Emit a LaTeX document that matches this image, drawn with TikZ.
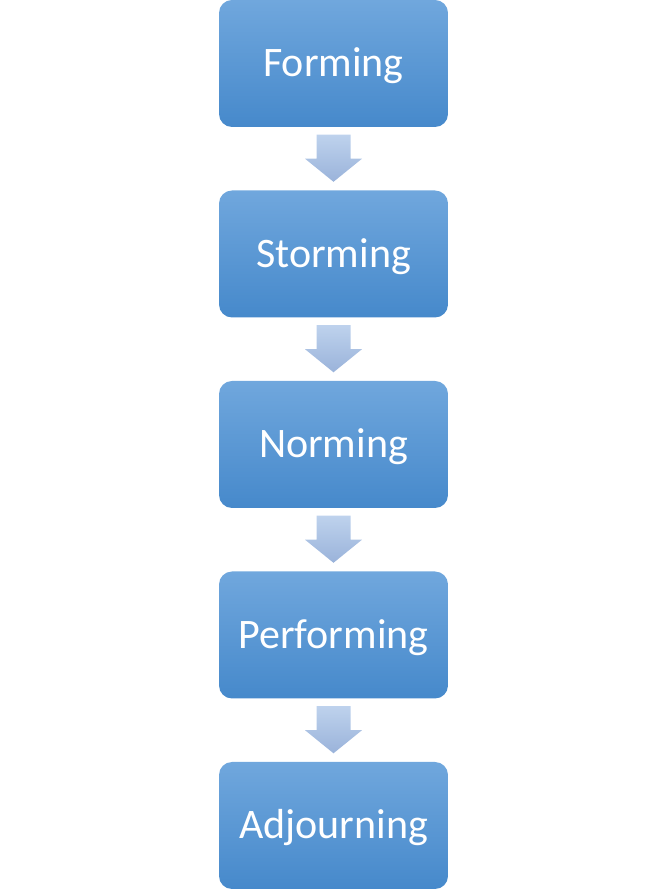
\documentclass[tikz,border=0pt]{standalone}
\usepackage{fontspec}
\setmainfont{Carlito}
\definecolor{boxtop}{HTML}{70A7DD}
\definecolor{boxbot}{HTML}{4689CB}
\definecolor{arrtop}{HTML}{BED2ED}
\definecolor{arrbot}{HTML}{9AB3DA}
\newcommand{\stagetext}[1]{\raisebox{-2.5pt}[\height][\depth]{#1}}
\begin{document}
\begin{tikzpicture}[x=1pt,y=1pt,
  stagebox/.style={rectangle, rounded corners=13pt, minimum width=229pt, minimum height=127pt,
    top color=boxtop, bottom color=boxbot, draw=none, text=white,
    font=\fontsize{42}{48}\selectfont, inner sep=0pt},
  blockarrow/.style={top color=arrtop, bottom color=arrbot, draw=none}]
\useasboundingbox (0,0) rectangle (666,889);
% box centers: x=333.5, y(px)=63.5 + k*190.5
\node[stagebox] (forming)    at (333.5,{889-63.5}) {\stagetext{Forming}};
\node[stagebox] (storming)   at (333.5,{889-254}) {\stagetext{Storming}};
\node[stagebox] (norming)    at (333.5,{889-444.5}) {\stagetext{Norming}};
\node[stagebox] (performing) at (333.5,{889-635}) {\stagetext{Performing}};
\node[stagebox] (adjourning) at (333.5,{889-825.5}) {\stagetext{Adjourning}};
\foreach \a/\b in {forming/storming,storming/norming,norming/performing,performing/adjourning}{
  \path[blockarrow]
    ([xshift=-17pt,yshift=-7.5pt]\a.south) -- ([xshift=17pt,yshift=-7.5pt]\a.south)
    -- ([xshift=17pt,yshift=-31.5pt]\a.south) -- ([xshift=28.5pt,yshift=-31.5pt]\a.south)
    -- ([yshift=8.5pt]\b.north) -- ([xshift=-28.5pt,yshift=-31.5pt]\a.south)
    -- ([xshift=-17pt,yshift=-31.5pt]\a.south) -- cycle;
}
\end{tikzpicture}
\end{document}
